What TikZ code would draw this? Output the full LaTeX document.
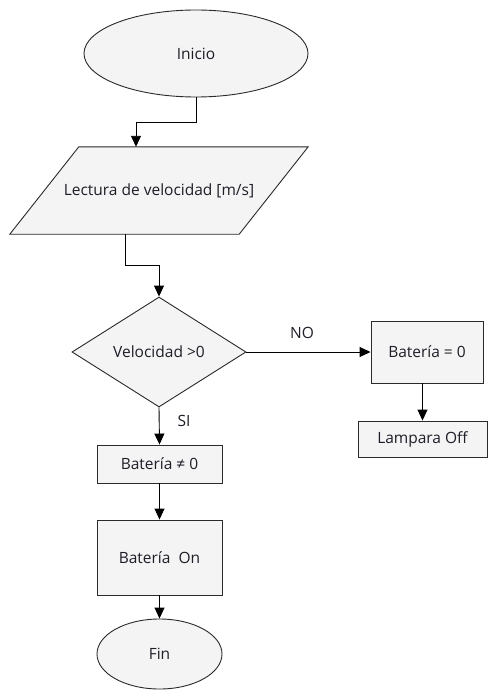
\documentclass[tikz,border=0pt]{standalone}
\usepackage{fontspec}
\setmainfont{Open Sans}
\usetikzlibrary{shapes.geometric,arrows.meta,calc}
\definecolor{boxfill}{HTML}{F4F4F4}
\definecolor{edge}{HTML}{2A2A2A}
\definecolor{ink}{HTML}{1E1E28}
\begin{document}
\begin{tikzpicture}[x=1pt,y=-1pt,
  every node/.style={font=\fontsize{15.5}{18}\selectfont, text=ink},
  shapebase/.style={draw=edge, fill=boxfill, line width=0.9pt, inner sep=0pt},
  terminal/.style={shapebase, ellipse},
  procbox/.style={shapebase, rectangle},
  decision/.style={shapebase, diamond, aspect=1.58},
  arr/.style={draw=black, line width=0.9pt, -{Triangle[length=11pt,width=10pt]}}]
\useasboundingbox (0,0) rectangle (488,690);

% start
\node[terminal, minimum width=224pt, minimum height=87pt] (ini) at (196,53.5) {Inicio};

% input (parallelogram drawn around an invisible anchor box)
\node[minimum width=298pt, minimum height=87pt, inner sep=0pt] (lect) at (159,190.5) {};
\draw[shapebase] ($(lect.north west)+(69,0)$) -- (lect.north east)
  -- ($(lect.south east)+(-69,0)$) -- (lect.south west) -- cycle;
\node at (lect.center) {Lectura de velocidad [m/s]};

% decision
\node[decision, minimum width=174pt, minimum height=110pt] (dec) at (159,352) {Velocidad >0};

% NO branch
\node[procbox, minimum width=112pt, minimum height=62pt] (bat0) at (427,352) {Batería = 0};
\node[procbox, minimum width=129pt, minimum height=36pt] (lamp) at (422.5,439) {Lampara Off};

% SI branch
\node[procbox, minimum width=125pt, minimum height=38pt] (batn) at (159.5,464) {Batería ≠ 0};
\node[procbox, minimum width=125pt, minimum height=75pt] (baton) at (159.5,557.5) {Batería\ \ On};
\node[terminal, minimum width=125pt, minimum height=70pt] (fin) at (159.5,654) {Fin};

% connectors
\coordinate (lectin) at ($(lect.north)+(-23,0)$);
\coordinate (lectout) at ($(lect.south)+(-34,0)$);
\draw[arr] (ini.south) -- ++(0,25) -| (lectin);
\draw[arr] (lectout) -- ++(0,31) -| (dec.north);
\draw[arr] (dec.east) -- (bat0.west);
\draw[arr] (bat0.south -| lamp.north) -- (lamp.north);
\draw[arr] (dec.south) -- (batn.north);
\draw[arr] (batn.south) -- (baton.north);
\draw[arr] (baton.south) -- (fin.north);

% branch labels
\node (no) at (302,333) {NO};
\node (si) at (184,421) {SI};
\end{tikzpicture}
\end{document}
